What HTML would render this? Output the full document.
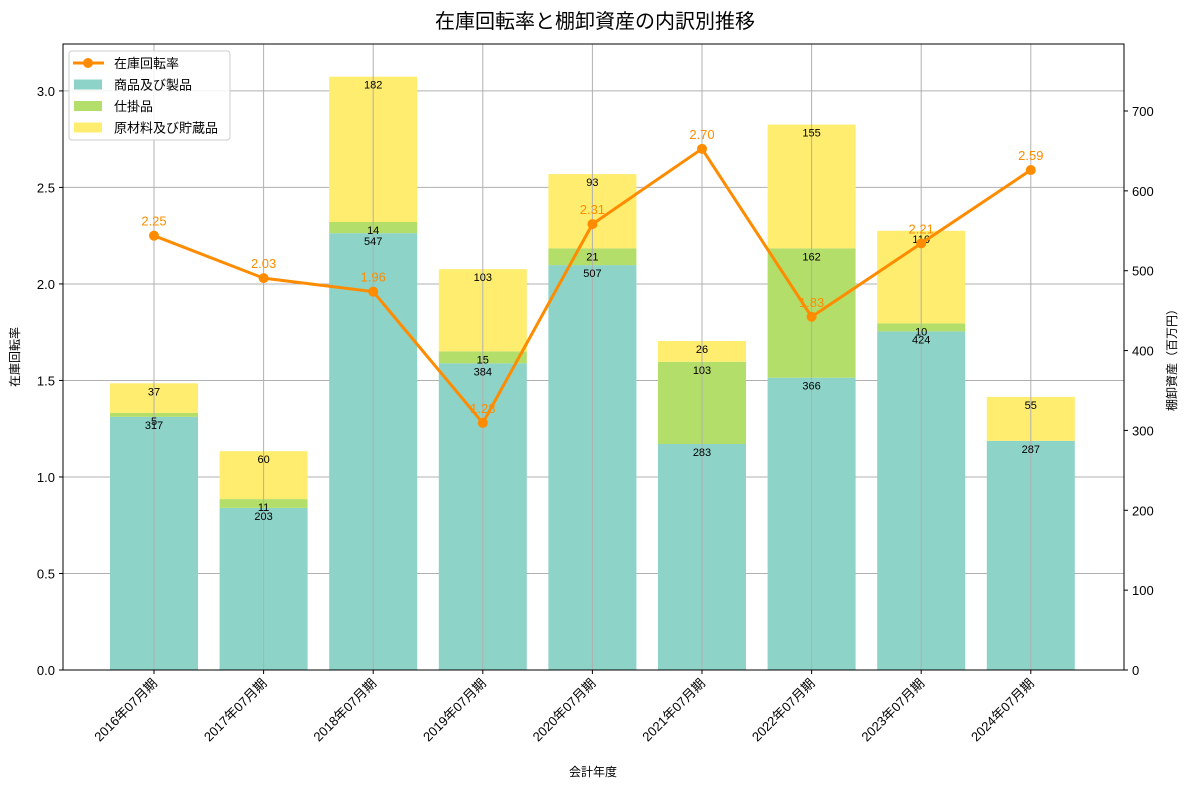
<!DOCTYPE html>
<html><head><meta charset="utf-8"><style>
body{margin:0;background:#fff;}
svg{font-family:"Liberation Sans","Noto Sans CJK JP",sans-serif;}
</style></head><body>
<svg id="c" width="1190" height="788"></svg>
<script>
const categories=["2016年07月期","2017年07月期","2018年07月期","2019年07月期","2020年07月期","2021年07月期","2022年07月期","2023年07月期","2024年07月期"];
const goods=[317,203,547,384,507,283,366,424,287];
const wip=[5,11,14,15,21,103,162,10,0];
const raw=[37,60,182,103,93,26,155,116,55];
const turnover=[2.25,2.03,1.96,1.28,2.31,2.70,1.83,2.21,2.59];
const leftTicks=[0,0.5,1.0,1.5,2.0,2.5,3.0];
const rightTicks=[0,100,200,300,400,500,600,700];

const NS="http://www.w3.org/2000/svg";
const svg=document.getElementById('c');
const L=63,R=1124,T=44,B=670;
const yL=v=>B-v*(B-T)/3.243;
const yR=v=>B-v*(B-T)/783.9;
const step=(R-L)/categories.length*0.9297;
const xC=i=>154+i*109.6;
const bw=88;
function el(tag,attrs,parent){const e=document.createElementNS(NS,tag);for(const k in attrs)e.setAttribute(k,attrs[k]);(parent||svg).appendChild(e);return e;}
function txt(s,attrs,parent){const e=el('text',attrs,parent);e.textContent=s;return e;}

let t=txt("在庫回転率と棚卸資産の内訳別推移",{x:595,y:28,'text-anchor':'middle','font-size':20,fill:'#000'});


// horizontal grid
leftTicks.forEach(v=>{const g=el('line',{x1:L,x2:R,y1:yL(v),y2:yL(v),stroke:'#b0b0b0','stroke-width':1});
});

// bars
const series=[{d:goods,c:'#8dd3c7',n:'goods'},{d:wip,c:'#b3de69',n:'wip'},{d:raw,c:'#ffed6f',n:'raw'}];
const labels=[];
categories.forEach((c,i)=>{let base=0;series.forEach(s=>{const v=s.d[i];
 if(v>0){const r=el('rect',{x:xC(i)-bw/2,y:yR(base+v),width:bw,height:yR(base)-yR(base+v),fill:s.c});
 
 labels.push([String(v),xC(i),yR(base+v)+12]);}
 base+=v;});});

// vertical grid
categories.forEach((c,i)=>{const g=el('line',{x1:xC(i),x2:xC(i),y1:T,y2:B,stroke:'#b0b0b0','stroke-width':1});
});

labels.forEach(l=>{const e=txt(l[0],{x:l[1],y:l[2],'text-anchor':'middle','font-size':11,fill:'#000'});
});

// line
const pts=turnover.map((v,i)=>xC(i)+','+yL(v)).join(' ');
const pl=el('polyline',{points:pts,fill:'none',stroke:'#ff8c00','stroke-width':3});

turnover.forEach((v,i)=>{const p=el('circle',{cx:xC(i),cy:yL(v),r:5,fill:'#ff8c00'});

const e=txt(v.toFixed(2),{x:xC(i),y:yL(v)-10,'text-anchor':'middle','font-size':13,fill:'#ff8c00'});
});

// frame
const f=el('rect',{x:L,y:T,width:R-L,height:B-T,fill:'none',stroke:'#000','stroke-width':1});


leftTicks.forEach(v=>{el('line',{x1:L-4,x2:L,y1:yL(v),y2:yL(v),stroke:'#000'});
const e=txt(v.toFixed(1),{x:L-8,y:yL(v)+5,'text-anchor':'end','font-size':13});
});
rightTicks.forEach(v=>{el('line',{x1:R,x2:R+4,y1:yR(v),y2:yR(v),stroke:'#000'});
const e=txt(String(v),{x:R+8,y:yR(v)+5,'text-anchor':'start','font-size':13});
});
categories.forEach((c,i)=>{el('line',{x1:xC(i),x2:xC(i),y1:B,y2:B+4,stroke:'#000'});
const e=txt(c,{x:xC(i)+4,y:B+14,'text-anchor':'end','font-size':13,transform:`rotate(-45 ${xC(i)+4} ${B+14})`});
});

t=txt("会計年度",{x:593,y:776,'text-anchor':'middle','font-size':12});
t=txt("在庫回転率",{x:19,y:357,'text-anchor':'middle','font-size':12,transform:'rotate(-90 19 357)'});
t=txt("棚卸資産（百万円）",{x:1176,y:357,'text-anchor':'middle','font-size':12,transform:'rotate(-90 1176 357)'});

// legend
const lg=el('g',{});
el('rect',{x:69,y:51,width:161,height:89,rx:3,fill:'#fff','fill-opacity':0.85,stroke:'#ccc'},lg);
el('line',{x1:73,x2:104,y1:63,y2:63,stroke:'#ff8c00','stroke-width':3},lg);
el('circle',{cx:88,cy:63,r:5,fill:'#ff8c00'},lg);
const li=[["在庫回転率",null],["商品及び製品",'#8dd3c7'],["仕掛品",'#b3de69'],["原材料及び貯蔵品",'#ffed6f']];
li.forEach((l,k)=>{const y=63+k*21.5;if(l[1])el('rect',{x:74,y:y-5,width:28,height:10,fill:l[1]},lg);
const e=txt(l[0],{x:114,y:y+5,'font-size':13},lg);});
</script>
</body></html>
